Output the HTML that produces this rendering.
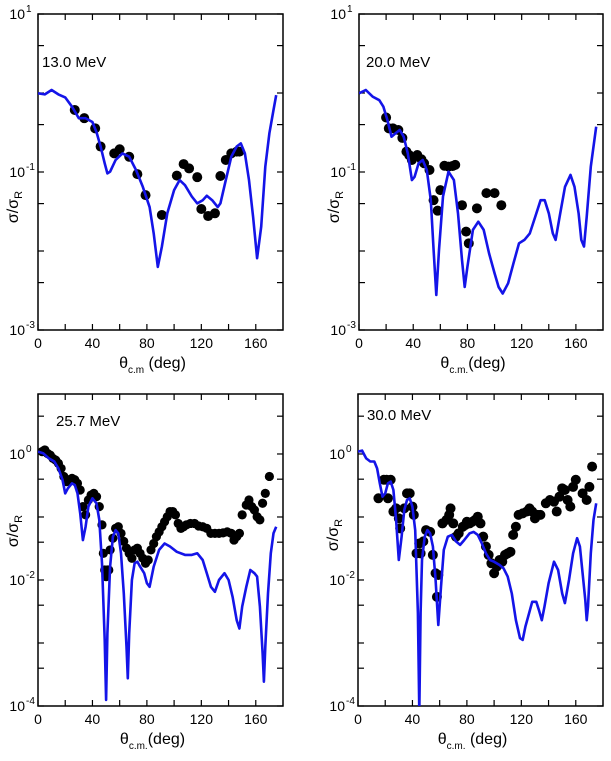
<!DOCTYPE html>
<html><head><meta charset="utf-8"><style>
html,body{margin:0;padding:0;background:#fff;}
svg{display:block;font-family:"Liberation Sans",Arial,sans-serif;}
</style></head><body>
<svg id="fig" width="611" height="761" viewBox="0 0 611 761"></svg>
<script>
// ---- Panel A: 13.0 MeV ----
const aCurveX=[0,5,10,15,20,25,30,35,40,43,46,49,51,53,57,62,67,72,77,82,85,88,91,95,100,104,108,113,117,121,124,128,132,134,138,142,146,149,152,155,158,161,164,167,170,173,175];
const aCurveY=[0.99,0.96,1.09,0.96,0.88,0.67,0.48,0.48,0.43,0.32,0.21,0.129,0.096,0.101,0.142,0.172,0.156,0.106,0.065,0.036,0.0167,0.0063,0.0114,0.030,0.059,0.079,0.068,0.049,0.040,0.044,0.050,0.044,0.036,0.040,0.079,0.156,0.21,0.23,0.172,0.079,0.027,0.0081,0.0203,0.117,0.31,0.61,0.94];
const aDataX=[27,34,42,46,56,60,67,73,79,91,102,107,111,117,120,125,130,134,138,142,146,148];
const aDataY=[0.61,0.48,0.357,0.21,0.172,0.194,0.156,0.094,0.051,0.0286,0.090,0.126,0.111,0.086,0.034,0.0277,0.030,0.089,0.142,0.172,0.181,0.181];
// ---- Panel B: 20.0 MeV ----
const bCurveX=[0,5,10,15,18,21,24,27,30,33,36,39,41,44,47,50,53,55,57,59,62,66,70,73,76,78,80,84,88,92,96,100,103,106,110,114,118,122,126,130,134,137,140,143,145,148,152,156,159,162,164,166,168,171,175];
const bCurveY=[0.99,1.09,0.90,0.81,0.67,0.45,0.28,0.31,0.34,0.28,0.172,0.079,0.087,0.129,0.142,0.106,0.044,0.0103,0.00277,0.0103,0.049,0.101,0.079,0.030,0.0077,0.0035,0.0063,0.0185,0.0235,0.0185,0.0093,0.0052,0.0035,0.0029,0.0039,0.0070,0.0125,0.0138,0.0167,0.027,0.044,0.044,0.030,0.0167,0.0138,0.027,0.065,0.092,0.065,0.030,0.0138,0.0114,0.027,0.117,0.375];
const bDataX=[20,22,25,29,32,35,37,39,43,46,48,52,55,58,60,63,66,69,71,76,79,81,87,94,100,105];
const bDataY=[0.49,0.357,0.357,0.34,0.27,0.181,0.164,0.142,0.164,0.145,0.129,0.106,0.044,0.0324,0.059,0.120,0.117,0.119,0.123,0.038,0.0176,0.0125,0.0347,0.054,0.054,0.038];
// ---- Panel C: 25.7 MeV ----
const cCurveX=[0,4,8,12,15,18,20,22,25,27,29,31,33,35,37,40,43,45,47,49,50,51,53,55,57,59,61,63,65,66,67,69,71,73,75,78,80,82,85,89,93,97,102,108,113,117,121,124,127,130,133,137,140,143,146,148,150,153,156,159,161,163,165,166,167,169,171,173,175];
const cCurveY=[1.09,1.02,0.85,0.76,0.59,0.39,0.237,0.285,0.342,0.322,0.237,0.114,0.043,0.070,0.146,0.198,0.165,0.090,0.0184,0.00112,0.000125,0.00142,0.0163,0.0487,0.062,0.055,0.0265,0.0061,0.00087,0.000275,0.00142,0.01,0.0184,0.0195,0.0163,0.0128,0.0089,0.0078,0.0163,0.030,0.038,0.034,0.028,0.025,0.025,0.0265,0.0208,0.0128,0.0078,0.0065,0.01,0.0128,0.01,0.0054,0.0023,0.0017,0.0038,0.0078,0.0144,0.0128,0.0113,0.0038,0.00069,0.000243,0.00087,0.0061,0.0265,0.055,0.070];
const cDataX=[3,5,7,9,11,13,15,17,19,21,23,25,27,29,31,33,35,37,39,41,43,45,47,48,49,50,51,52,53,55,57,59,61,63,65,67,69,71,73,75,77,79,81,83,85,87,89,91,93,95,97,99,101,103,105,107,109,112,115,118,121,124,127,130,133,136,139,142,144,146,148,150,153,155,157,159,161,163,165,167,170];
const cDataY=[1.09,1.16,1.02,0.96,0.85,0.80,0.71,0.59,0.44,0.364,0.39,0.41,0.39,0.342,0.268,0.146,0.108,0.186,0.223,0.237,0.21,0.146,0.075,0.0265,0.0144,0.0113,0.0144,0.0144,0.030,0.046,0.066,0.070,0.055,0.041,0.032,0.0265,0.0221,0.030,0.032,0.0265,0.0221,0.0184,0.0208,0.030,0.038,0.0487,0.058,0.070,0.084,0.101,0.122,0.122,0.108,0.079,0.066,0.070,0.075,0.079,0.079,0.072,0.070,0.066,0.055,0.055,0.055,0.056,0.058,0.055,0.043,0.0487,0.055,0.108,0.155,0.186,0.146,0.129,0.101,0.090,0.165,0.237,0.44];
// ---- Panel D: 30.0 MeV ----
const dCurveX=[0,3,6,9,12,14,16,18,20,22,24,26,28,30,32,34,36,38,40,42,44,45,46,47,49,51,53,55,57,59,61,63,66,69,72,75,78,82,85,88,91,94,97,100,104,107,110,113,116,119,121,123,125,128,131,133,135,137,140,144,147,150,152,155,158,161,163,165,167,168,169,171,173,175];
const dCurveY=[1.09,1.13,0.85,0.76,0.76,0.59,0.342,0.21,0.237,0.342,0.364,0.268,0.090,0.0208,0.0487,0.129,0.186,0.198,0.146,0.062,0.0030,0.00008,0.0030,0.0208,0.0487,0.062,0.055,0.034,0.01,0.00193,0.0078,0.030,0.0487,0.052,0.041,0.036,0.043,0.055,0.058,0.052,0.038,0.0265,0.0208,0.0195,0.0173,0.0153,0.0113,0.0061,0.0023,0.00119,0.00112,0.00182,0.0026,0.0045,0.0045,0.0033,0.0023,0.0038,0.0089,0.0195,0.0144,0.0061,0.0043,0.01,0.0265,0.046,0.034,0.0128,0.0048,0.0023,0.0038,0.0265,0.090,0.165];
const dDataX=[15,19,21,22,24,26,28,30,31,34,36,38,40,41,43,45,46,48,50,53,55,57,58,59,62,65,67,68,70,72,74,77,79,80,82,84,86,88,90,92,94,96,98,100,102,104,106,108,110,112,114,116,118,121,124,126,128,130,132,134,138,141,144,146,148,150,152,154,156,158,160,165,168,170,172];
const dDataY=[0.198,0.39,0.39,0.198,0.39,0.122,0.137,0.095,0.066,0.137,0.237,0.237,0.146,0.108,0.0265,0.038,0.0265,0.041,0.062,0.058,0.025,0.0128,0.0054,0.012,0.079,0.090,0.108,0.137,0.079,0.0487,0.055,0.070,0.075,0.084,0.079,0.084,0.090,0.101,0.079,0.0487,0.034,0.025,0.0184,0.0128,0.0163,0.0208,0.0195,0.025,0.0265,0.028,0.052,0.070,0.108,0.114,0.122,0.137,0.122,0.095,0.108,0.108,0.165,0.186,0.175,0.122,0.21,0.285,0.268,0.186,0.146,0.30,0.39,0.237,0.186,0.30,0.63];

const xTickVals=[0,20,40,60,80,100,120,140,160];
const xTickLabels=["0","","40","","80","","120","","160"];
const topDecades=[1,0,-1,-2,-3];
const topDecLabels=["1","","-1","","-3"];
const botDecades=[1,0,-1,-2,-3,-4];
const botDecLabels=["","0","","-2","","-4"];

const NS="http://www.w3.org/2000/svg";
const svg=document.getElementById('fig');
function mk(tag,attrs,parent){const e=document.createElementNS(NS,tag);for(const k in attrs)e.setAttribute(k,attrs[k]);(parent||svg).appendChild(e);return e;}

function panel(cfg){
  const g=mk('g',{});
  
  
  const L=cfg.left,R=cfg.right,T=cfg.top,B=cfg.bottom;
  const xs=d=>L+(d/180)*(R-L);
  const ys=v=>T+(cfg.logTop-Math.log10(v))*(B-T)/(cfg.logTop-cfg.logBot);
  const clipId='clip-'+cfg.name;
  const cp=mk('clipPath',{id:clipId},g);
  mk('rect',{x:L,y:T,width:R-L,height:B-T},cp);
  const tk=mk('g',{stroke:'#000','stroke-width':1.2},g);
  
  
  xTickVals.forEach((v,i)=>{
    const x=xs(v);
    mk('line',{x1:x,y1:B,x2:x,y2:B-6},tk);
    mk('line',{x1:x,y1:T,x2:x,y2:T+6},tk);
    if(xTickLabels[i]){const t=mk('text',{x:x,y:B+18,'font-size':14,'text-anchor':'middle',fill:'#000',stroke:'none'},g);t.textContent=xTickLabels[i];
      }
  });
  cfg.decades.forEach((k,i)=>{
    [k,k-0.4].forEach(lv=>{
      const y=ys(Math.pow(10,lv));
      if(y<T-0.5||y>B+0.5)return;
      mk('line',{x1:L,y1:y,x2:L+6,y2:y},tk);
      mk('line',{x1:R,y1:y,x2:R-6,y2:y},tk);
    });
    if(cfg.decLabels[i]){
      const y=ys(Math.pow(10,k));
      const t=mk('text',{x:L-13,y:y+5,'font-size':14,'text-anchor':'end',fill:'#000'},g);
      t.textContent='10';
      
      const s=mk('text',{x:L-12,y:y-2,'font-size':10,'text-anchor':'start',fill:'#000'},g);
      s.textContent=cfg.decLabels[i];
    }
  });
  const fr=mk('rect',{x:L,y:T,width:R-L,height:B-T,fill:'none',stroke:'#000','stroke-width':1.5},g);
  
  const pts=mk('g',{fill:'#000','clip-path':'url(#'+clipId+')'},g);
  
  cfg.dx.forEach((d,i)=>{
    const c=mk('circle',{cx:xs(d),cy:ys(cfg.dy[i]),r:cfg.r},pts);
    
    
  });
  const pd=cfg.cx.map((d,i)=>(i?'L':'M')+xs(d).toFixed(1)+','+ys(cfg.cy[i]).toFixed(1)).join('');
  const p=mk('path',{d:pd,fill:'none',stroke:'#1414e8','stroke-width':2.6,'stroke-linejoin':'round','clip-path':'url(#'+clipId+')'},g);
  
  
  const el=mk('text',{x:cfg.labX,y:cfg.labY,'font-size':15,fill:'#000'},g);
  el.textContent=cfg.label;
  
  const yt=mk('text',{x:0,y:0,'font-size':16,'text-anchor':'middle',fill:'#000',transform:'translate('+(cfg.left-20)+','+cfg.ytY+') rotate(-90)'},g);
  
  yt.innerHTML='σ/σ<tspan font-size="11" dy="4">R</tspan>';
  const xt=mk('text',{x:(L+R)/2-8,y:B+38,'font-size':16,'text-anchor':'middle',fill:'#000'},g);
  
  xt.innerHTML='θ<tspan font-size="10" dy="5">'+cfg.sub+'</tspan><tspan dy="-5">'+cfg.gap+'(deg)</tspan>';
}

panel({name:'panel-13mev',left:38,right:283,top:14,bottom:330,logTop:1,logBot:-3,decades:topDecades,decLabels:topDecLabels,cx:aCurveX,cy:aCurveY,dx:aDataX,dy:aDataY,r:5,label:'13.0 MeV',labX:42,labY:67,sub:'c.m',gap:' ',ytY:207});
panel({name:'panel-20mev',left:359,right:603,top:14,bottom:330,logTop:1,logBot:-3,decades:topDecades,decLabels:topDecLabels,cx:bCurveX,cy:bCurveY,dx:bDataX,dy:bDataY,r:5,label:'20.0 MeV',labX:366,labY:67,sub:'c.m.',gap:'',ytY:207});
panel({name:'panel-25-7mev',left:38,right:283,top:394,bottom:706,logTop:0.952,logBot:-4,decades:botDecades,decLabels:botDecLabels,cx:cCurveX,cy:cCurveY,dx:cDataX,dy:cDataY,r:4.6,label:'25.7 MeV',labX:56,labY:426,sub:'c.m.',gap:'',ytY:531});
panel({name:'panel-30mev',left:358,right:603,top:394,bottom:706,logTop:0.952,logBot:-4,decades:botDecades,decLabels:botDecLabels,cx:dCurveX,cy:dCurveY,dx:dDataX,dy:dDataY,r:5,label:'30.0 MeV',labX:367,labY:420,sub:'c.m.',gap:' ',ytY:535});
</script>
</body></html>
